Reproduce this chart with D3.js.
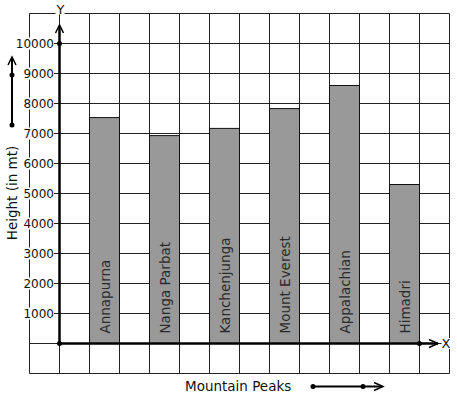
<!DOCTYPE html>
<html lang="en">
<head>
<meta charset="UTF-8">
<title>Mountain Peaks</title>
<script src="https://cdn.jsdelivr.net/npm/d3@7"></script>
<style>
    body { margin: 0; background: #fff; }
    svg { display: block; font-family: "DejaVu Sans", sans-serif; }
</style>
</head>
<body>
<svg id="chart" width="457" height="399"></svg>
<script>
const peaks = ["Annapurna", "Nanga Parbat", "Kanchenjunga", "Mount Everest", "Appalachian", "Himadri"];
const heights = [7530, 6930, 7170, 7830, 8600, 5300];
const yTicks = [1000, 2000, 3000, 4000, 5000, 6000, 7000, 8000, 9000, 10000];

const svg = d3.select("#chart");

// scales
const y = d3.scaleLinear().domain([0, 10000]).range([343.5, 43.5]);
const x = d3.scaleBand().domain(peaks).range([89.5, 419.5]).paddingInner(0.5).paddingOuter(0);
// grid is in half-bar columns, one column = 30px
const gx = d3.scaleLinear().domain([-1, 13]).range([29.5, 449.5]);

// grid
const grid = svg.append("g").attr("stroke", "#222").attr("stroke-width", 1);
grid.selectAll("line.v")
    .data(d3.range(-1, 14))
    .join("line")
    .attr("class", "v")
    .attr("x1", d => gx(d)).attr("x2", d => gx(d))
    .attr("y1", y(11000)).attr("y2", y(-1000));
grid.selectAll("line.h")
    .data(d3.range(-1000, 11001, 1000))
    .join("line")
    .attr("class", "h")
    .attr("x1", gx(-1)).attr("x2", gx(13))
    .attr("y1", d => y(d)).attr("y2", d => y(d));

// bars
svg.append("g")
    .selectAll("rect")
    .data(peaks)
    .join("rect")
    .attr("x", d => x(d))
    .attr("width", x.bandwidth())
    .attr("y", (d, i) => y(heights[i]))
    .attr("height", (d, i) => y(0) - y(heights[i]))
    .attr("fill", "#999")
    .attr("stroke", "#111")
    .attr("stroke-width", 1);

// names inside bars
svg.append("g")
    .selectAll("text")
    .data(peaks)
    .join("text")
    .attr("transform", d => `translate(${x(d) + x.bandwidth() / 2},${y(0) - 10}) rotate(-90)`)
    .attr("dominant-baseline", "central")
    .attr("font-size", 13.5)
    .attr("fill", "#2a2a2a")
    .text(d => d);

// tick labels with white background
const ticks = svg.append("g")
    .selectAll("g")
    .data(yTicks)
    .join("g")
    .attr("transform", d => `translate(54,${y(d)})`);
ticks.append("text")
    .attr("text-anchor", "end")
    .attr("dominant-baseline", "central")
    .attr("font-size", 12)
    .attr("fill", "#111")
    .text(d => d);
ticks.each(function () {
    const t = d3.select(this).select("text");
    const b = t.node().getBBox();
    d3.select(this).insert("rect", "text")
        .attr("x", b.x - 1).attr("y", b.y + 1)
        .attr("width", b.width + 1).attr("height", b.height - 2)
        .attr("fill", "#fff");
});

// axes
const ax = svg.append("g").attr("stroke", "#000").attr("fill", "none");
ax.append("line").attr("x1", gx(0)).attr("x2", gx(0)).attr("y1", y(0)).attr("y2", 26).attr("stroke-width", 2.5);
ax.append("line").attr("x1", gx(0)).attr("x2", 438).attr("y1", y(0)).attr("y2", y(0)).attr("stroke-width", 2.5);
ax.append("path").attr("d", `M${gx(0) - 4},33L${gx(0)},25L${gx(0) + 4},33`).attr("stroke-width", 1.5);
ax.append("path").attr("d", `M429,${y(0) - 4}L438,${y(0)}L429,${y(0) + 4}`).attr("stroke-width", 1.5);

const dots = [[gx(0), y(0)], [gx(0), y(10000)], [gx(12), y(0)], [12, 125], [12, 75], [313, 386.5], [363, 386.5]];
svg.append("g")
    .selectAll("circle")
    .data(dots)
    .join("circle")
    .attr("cx", d => d[0]).attr("cy", d => d[1]).attr("r", 2.5).attr("fill", "#000");

// axis letters
[["Y", gx(0) + 1, 9], ["X", 446, y(0)]].forEach(([s, px, py]) => {
    const t = svg.append("text")
        .attr("x", px).attr("y", py)
        .attr("text-anchor", "middle")
        .attr("dominant-baseline", "central")
        .attr("font-size", 13)
        .attr("fill", "#111")
        .text(s);
    const b = t.node().getBBox();
    svg.insert("rect", () => t.node())
        .attr("x", b.x).attr("y", b.y + 2).attr("width", b.width).attr("height", b.height - 4)
        .attr("fill", "#fff");
});

// titles
svg.append("text")
    .attr("transform", "translate(12,193) rotate(-90)")
    .attr("text-anchor", "middle")
    .attr("dominant-baseline", "central")
    .attr("font-size", 13.5)
    .attr("fill", "#111")
    .text("Height (in mt)");
svg.append("text")
    .attr("x", 185).attr("y", 386)
    .attr("dominant-baseline", "central")
    .attr("font-size", 13.5)
    .attr("fill", "#111")
    .text("Mountain Peaks");

// direction arrows
const arrows = svg.append("g").attr("stroke", "#000").attr("fill", "none").attr("stroke-width", 2);
arrows.append("line").attr("x1", 12).attr("x2", 12).attr("y1", 125).attr("y2", 58);
arrows.append("path").attr("d", "M8,65L12,57L16,65").attr("stroke-width", 1.5);
arrows.append("line").attr("x1", 313).attr("x2", 382).attr("y1", 386.5).attr("y2", 386.5);
arrows.append("path").attr("d", "M374,382.5L383,386.5L374,390.5").attr("stroke-width", 1.5);
</script>
</body>
</html>
